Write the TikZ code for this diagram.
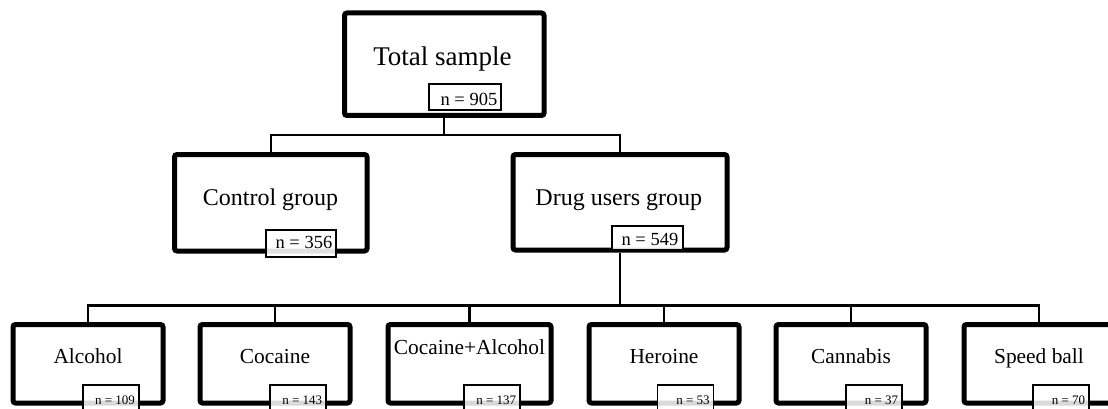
\documentclass[tikz,border=0pt]{standalone}
\usepackage{fontspec}
\setmainfont{Liberation Serif}
\usetikzlibrary{calc}
\begin{document}
\begin{tikzpicture}[x=1pt,y=-1pt,
  grpbox/.style={draw, line width=5pt, rounded corners=2.5pt, fill=white,
                 inner sep=0pt, minimum width=#1},
  conn/.style={line width=2.4pt},
  nbox/.style={draw, line width=2pt, fill=white, fill opacity=0.88,
               inner sep=0pt, minimum width=#1},
  smallnbox/.style={draw, line width=1.6pt, fill=white, fill opacity=0.85,
               inner sep=0pt, minimum width=56pt, minimum height=36pt, anchor=north},
  bigtxt/.style={anchor=base, inner sep=0pt, font=\fontsize{27}{32}\selectfont},
  midtxt/.style={anchor=base, inner sep=0pt, font=\fontsize{24}{28}\selectfont},
  lowtxt/.style={anchor=base, inner sep=0pt, font=\fontsize{21.4}{25}\selectfont},
  ntxt/.style={anchor=base east, inner sep=0pt, font=\fontsize{18.5}{22}\selectfont},
  smallntxt/.style={anchor=base east, inner sep=0pt, font=\fontsize{13}{15}\selectfont},
]
\path[use as bounding box, clip] (0,0) rectangle (1108,409);

% junction heights of the two forks
\coordinate (forkA) at (444,135);
\coordinate (forkB) at (620,305.5);

% level 0
\node[grpbox=199.5pt, minimum height=102.5pt] (total) at (444.25,64.25) {};
\node[bigtxt] (totaltxt) at (442.5,65.5) {Total sample};
\node[nbox=72pt, minimum height=26pt] (totaln) at (465,97) {};
\node[ntxt] (totalntxt) at (497.5,105.5) {n = 905};

% level 1
\node[grpbox=192.5pt, minimum height=96.5pt] (control) at (270.75,202.75) {};
\node[midtxt] (controltxt) at (270.5,205.5) {Control group};

\node[grpbox=214pt, minimum height=95.5pt] (drug) at (620,202.25) {};
\node[midtxt] (drugtxt) at (618.8,205.5) {Drug users group};

% connectors, level 0 -> level 1
\draw[conn] (total.south) -- (total.south |- forkA);
\draw[conn] (control.north) |- (forkA) -| (drug.north);

% sample sizes of level 1 (drawn on top of the borders)
\node[nbox=70pt, minimum height=27pt] (controln) at (301,243.5) {};
\node[ntxt] (controlntxt) at (332.5,248) {n = 356};
\node[nbox=71pt, minimum height=24pt] (drugn) at (647.5,238) {};
\node[ntxt] (drugntxt) at (678.5,245) {n = 549};

% level 2
\foreach \name/\cx/\w/\txt/\by in {
    alc/88/150/Alcohol/363.5,
    coc/275/150/Cocaine/363.5,
    cocalc/469.5/163/Cocaine+Alcohol/354,
    her/664/150/Heroine/363.5,
    can/851/150/Cannabis/363.5,
    spd/1039/150/Speed ball/363.5} {
  \node[grpbox=\w pt, minimum height=78.5pt] (\name) at (\cx,363.75) {};
  \node[lowtxt] (\name txt) at (\cx,\by) {\txt};
}

% connectors, drug users -> substances
\draw[conn] (drug.south) -- (forkB);
\foreach \name in {alc,coc,cocalc,her,can,spd}
  \draw[conn] (forkB) -| (\name.north);

% sample sizes of level 2
\foreach \name/\nx/\nn in {alc/110.8/109, coc/298/143, cocalc/492/137,
                           her/685.5/53, can/874/37, spd/1061/70} {
  \node[smallnbox] (\name n) at (\nx,384) {};
  \node[smallntxt] (\name ntxt) at ($(\name n.north east)+(-4.5,20.5)$) {n = \nn};
}
\end{tikzpicture}
\end{document}
